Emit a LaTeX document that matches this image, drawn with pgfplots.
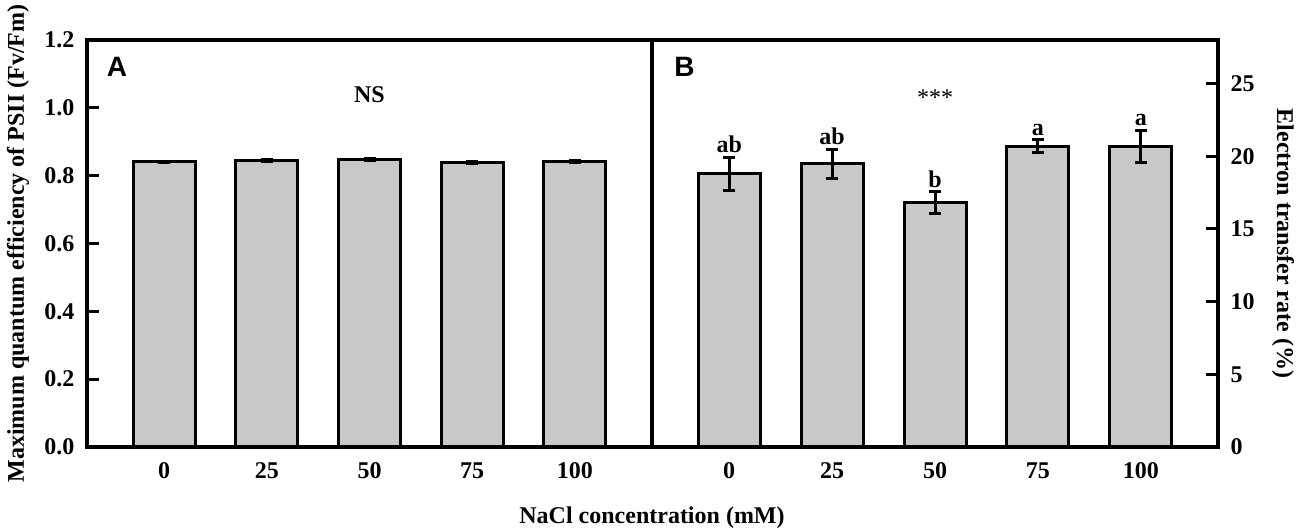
\documentclass[border=0pt]{standalone}
\usepackage{pgfplots}
\pgfplotsset{compat=1.18}
\usepackage{pgfplotstable}
\usepackage{fontspec}
\setmainfont{Liberation Serif}
\newfontfamily\sansbf{Liberation Sans}
\definecolor{barfill}{RGB}{200,200,200}
\pgfplotstableread{
x y e
0 0.841 0.002
1 0.846 0.003
2 0.848 0.002
3 0.839 0.003
4 0.842 0.002
}\dataA
\pgfplotstableread{
x y e
0 18.8 1.15
1 19.5 1.0
2 16.8 0.75
3 20.7 0.45
4 20.7 1.1
}\dataB
\begin{document}
\begin{tikzpicture}[x=1pt,y=1pt]
\useasboundingbox (0,0) rectangle (1299,530);
\pgfplotsset{
 common/.style={
  scale only axis, height=407pt, ymin=0, xmin=-0.75, xmax=4.75,
  xtick={0,1,2,3,4}, xticklabels={0,25,50,75,100},
  tick align=inside, major tick length=12pt,
  axis line style={line width=3.2pt},
  tick style={line width=3pt, black},
  major x tick style={draw=none},
  tick label style={font=\fontsize{24}{28}\selectfont\bfseries},
  label style={font=\fontsize{24}{28}\selectfont\bfseries},
  /pgf/number format/assume math mode=true,
  ybar, bar width=62pt,
  clip=false,
 },
 bars/.style={fill=barfill, draw=black, line width=3pt,
  error bars/.cd, y dir=both, y explicit,
  error bar style={line width=3pt},
  error mark options={rotate=90, mark size=6pt, line width=3pt}},
}
\begin{axis}[common, at={(87pt,83pt)}, anchor=south west, width=565pt,
  ymax=1.2, ytick={0,0.2,0.4,0.6,0.8,1.0,1.2}, ytick pos=left,
  yticklabel style={xshift=-9pt, /pgf/number format/.cd, fixed, fixed zerofill, precision=1},
  ylabel={Maximum quantum efficiency of PSII (Fv/Fm)},
  ylabel style={at={(axis description cs:-0.122,0.5)}, anchor=center},
  xlabel={NaCl concentration (mM)},
  xlabel style={at={(axis description cs:1,-0.174)}, anchor=center}]
\addplot[bars] table[x=x,y=y,y error=e]{\dataA};
\node[font=\fontsize{24}{28}\selectfont\bfseries] at (axis cs:2,1.04) {NS};
\node[anchor=north west, inner sep=0pt, font=\fontsize{28}{32}\selectfont\sansbf\bfseries] at (axis description cs:0.035,0.958) {A};
\end{axis}
\begin{axis}[common, at={(652pt,83pt)}, anchor=south west, width=566pt,
  ymax=28, ytick={0,5,10,15,20,25}, ytick pos=right, yticklabel pos=right,
  yticklabel style={xshift=9pt},
  ylabel={Electron transfer rate (\%)},
  ylabel style={at={(axis description cs:1.115,0.5)}, anchor=center, rotate=180}]
\addplot[bars] table[x=x,y=y,y error=e]{\dataB};
\begin{scope}[every node/.style={anchor=south, inner sep=0pt, yshift=4pt, font=\fontsize{24}{28}\selectfont\bfseries}]
\node at (axis cs:0,19.95) {ab};
\node at (axis cs:1,20.5) {ab};
\node at (axis cs:2,17.55) {b};
\node at (axis cs:3,21.15) {a};
\node at (axis cs:4,21.8) {a};
\end{scope}
\node[font=\fontsize{24}{28}\selectfont] at (axis cs:2,24.0) {***};
\node[anchor=north west, inner sep=0pt, font=\fontsize{28}{32}\selectfont\sansbf\bfseries] at (axis description cs:0.039,0.958) {B};
\end{axis}
\end{tikzpicture}
\end{document}
